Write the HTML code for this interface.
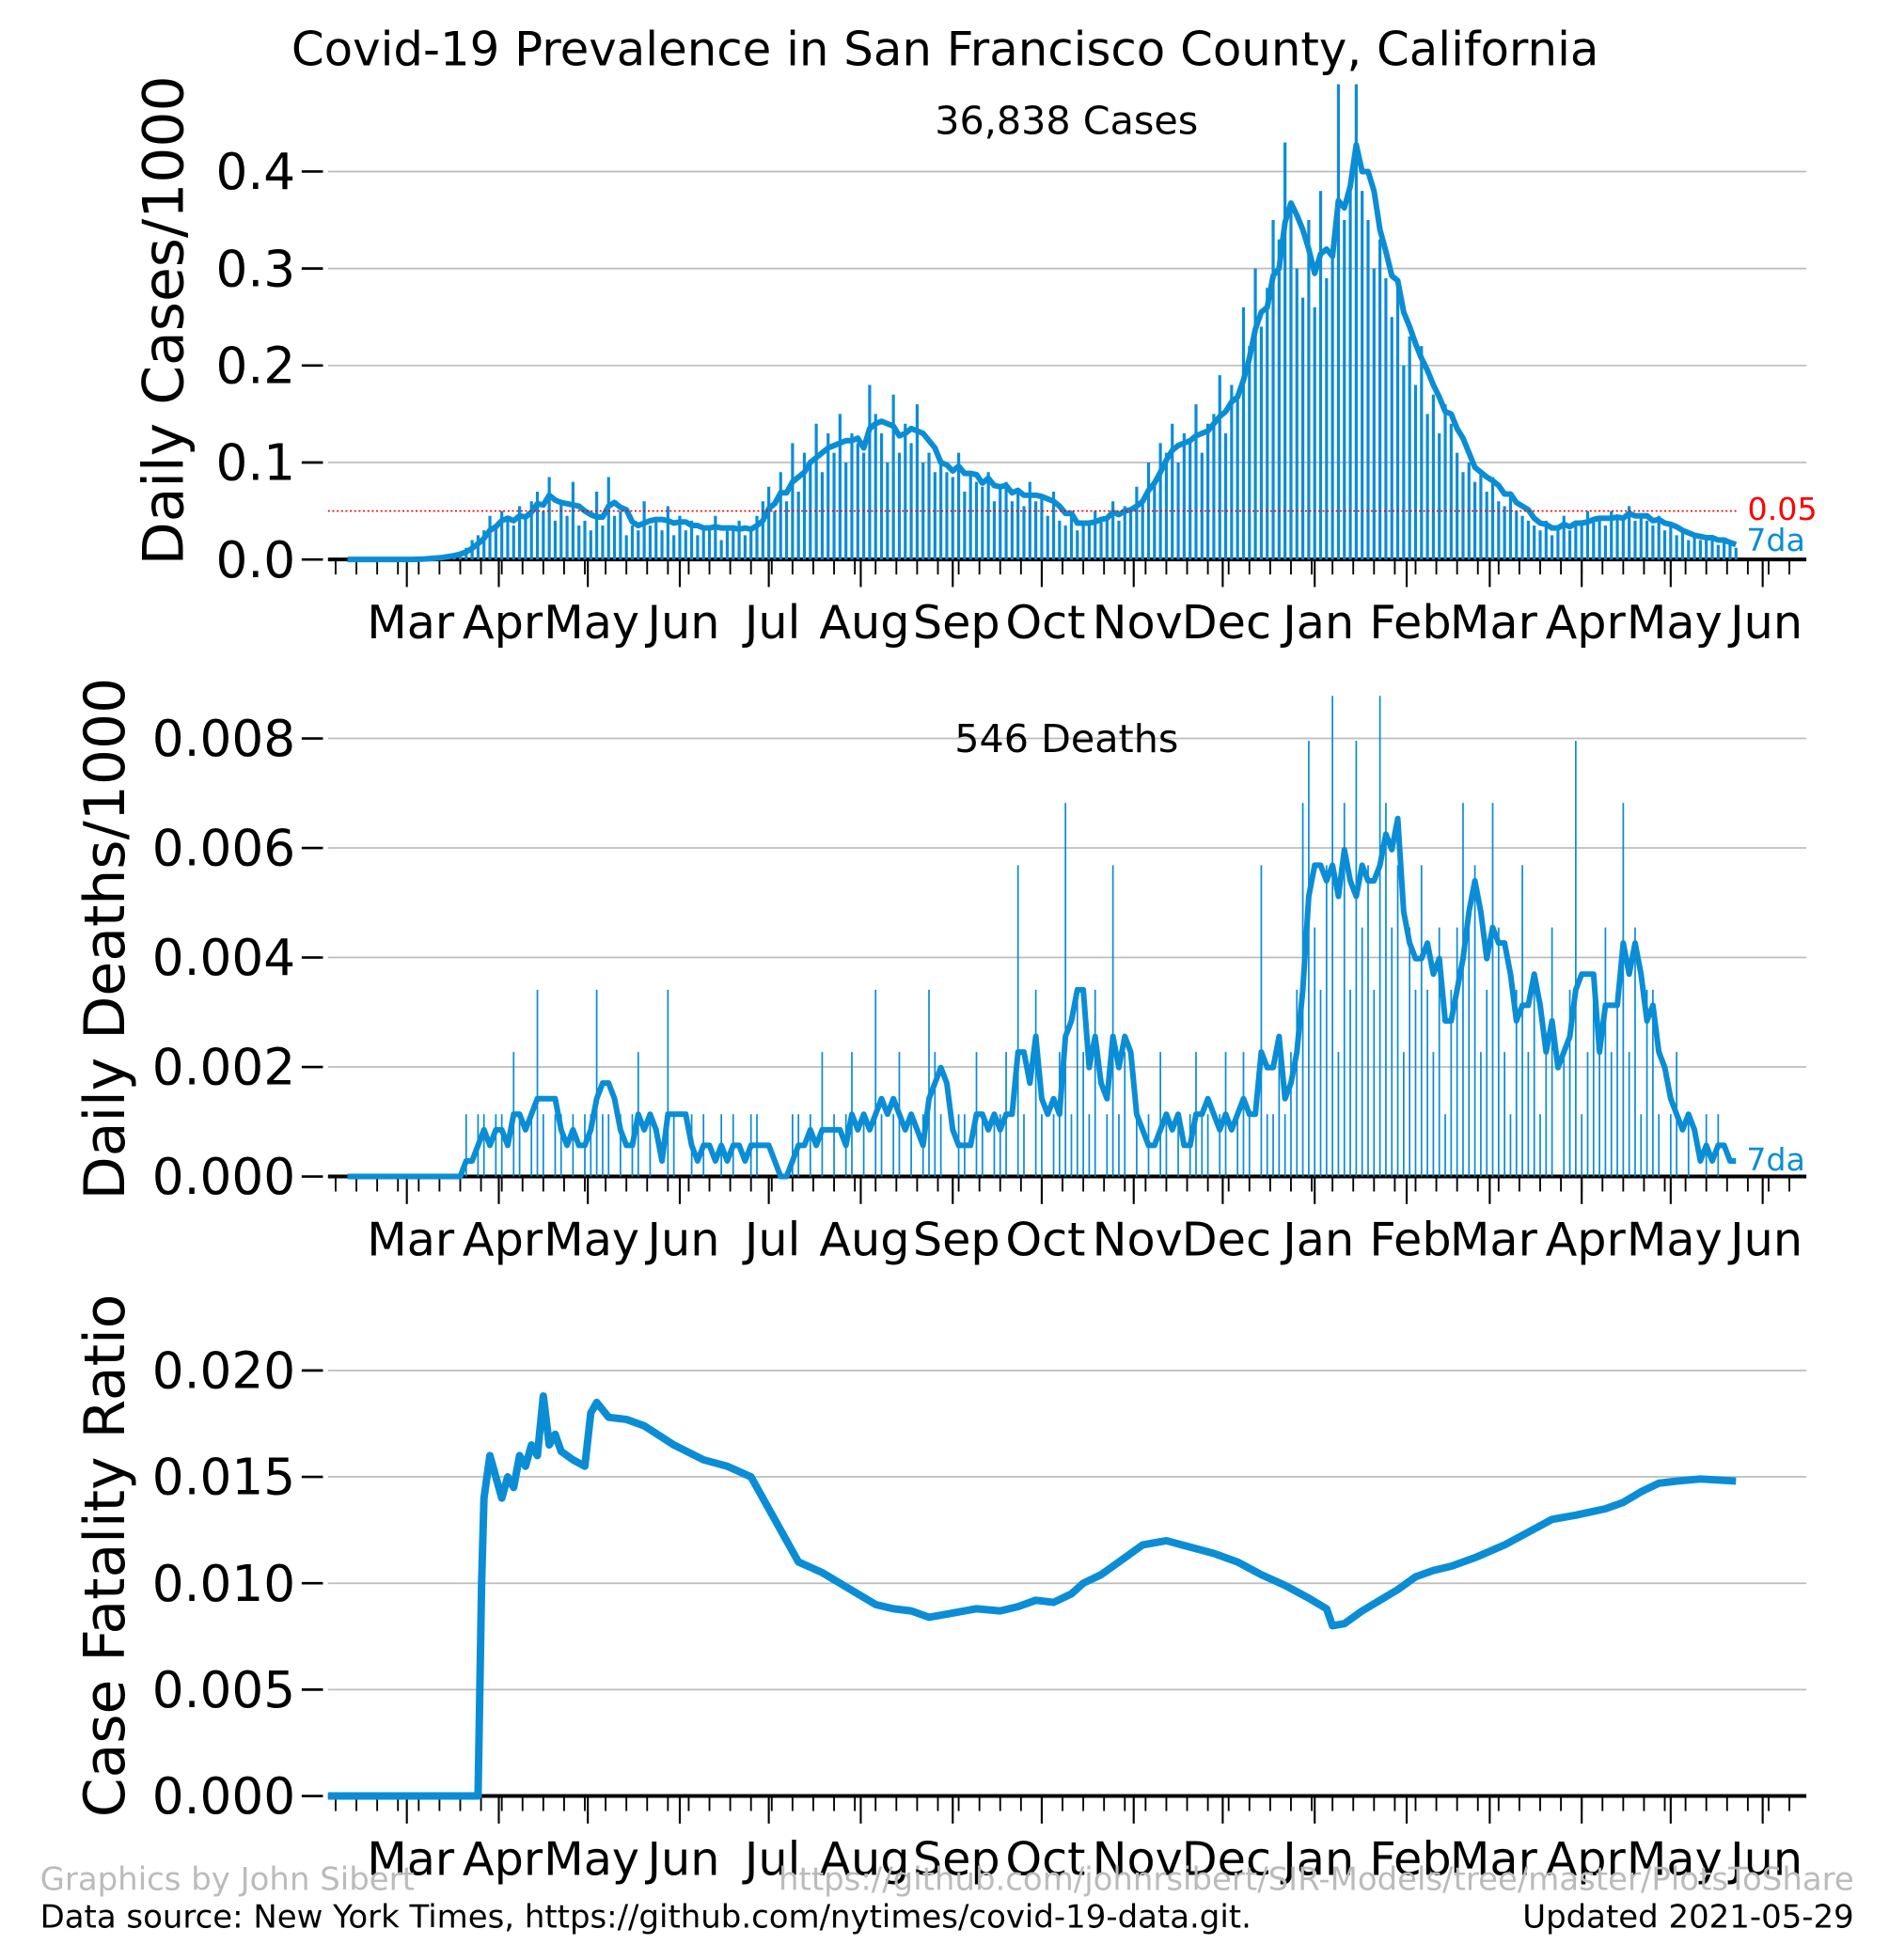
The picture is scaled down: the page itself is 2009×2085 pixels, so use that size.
<!DOCTYPE html>
<html><head><meta charset="utf-8"><style>
html,body{margin:0;padding:0;background:#fff}
svg{display:block}
text{font-family:"DejaVu Sans","Liberation Sans",sans-serif}
</style></head><body>
<svg id="chart" width="2009" height="2085" viewBox="0 0 1509 1566" xmlns="http://www.w3.org/2000/svg">
<text x="755" y="52" font-size="37.4" text-anchor="middle">Covid-19 Prevalence in San Francisco County, California</text>
<g id="p1"></g>
<g id="p2"></g>
<g id="p3"></g>
<text x="32" y="1510" font-size="25.5" fill="#bbb">Graphics by John Sibert</text>
<text x="1481" y="1510" font-size="25.5" fill="#bbb" text-anchor="end">https://github.com/johnrsibert/SIR-Models/tree/master/PlotsToShare</text>
<text x="32" y="1540" font-size="25.5">Data source: New York Times, https://github.com/nytimes/covid-19-data.git.</text>
<text x="1481" y="1540" font-size="25.5" text-anchor="end">Updated 2021-05-29</text>
</svg>
<script>
// Values sampled every 2 days starting 2020-02-10
const cases = [0,0,0,0,0,0,0,0,0,0,
0,0,1,1,2,2,3,5,6,8,
12,20,25,30,45,35,50,40,35,55,
45,60,70,50,85,40,60,45,80,35,
40,30,70,35,85,45,50,25,35,30,
60,35,40,30,55,25,45,30,40,25,
35,30,45,20,35,30,40,25,30,45,
60,75,50,90,60,120,70,110,100,140,
90,130,110,150,100,130,120,110,180,150,
130,100,170,110,140,120,160,100,110,90,
100,90,85,110,70,90,80,75,90,60,
75,80,60,70,55,80,60,65,45,70,
40,35,45,30,40,35,50,40,45,60,
40,55,50,75,60,100,80,120,110,140,
100,130,120,160,110,140,150,190,130,180,
170,260,220,300,240,280,350,330,430,360,
300,270,350,260,380,290,320,490,350,380,
490,380,350,300,330,290,250,280,200,230,
180,220,150,170,130,160,140,110,90,100,
80,90,70,85,60,55,70,50,45,40,
35,30,40,25,35,45,30,40,35,50,
40,45,35,50,45,40,55,40,45,40,
35,45,30,35,25,30,20,25,20,25,
20,15,20,15,12];
const deaths = [0,0,0,0,0,0,0,0,0,0,0,0,0,0,0,0,0,0,0,0,
1,0,1,1,0,1,1,0,2,1,
0,1,3,1,0,1,1,0,1,0,
1,1,3,1,1,0,1,0,1,2,
0,1,0,0,3,1,0,0,1,0,
1,0,0,1,0,1,0,0,1,1,
0,0,0,0,0,1,1,0,1,0,
2,0,1,0,1,2,0,1,0,3,
1,0,1,2,0,1,0,1,3,2,
1,0,0,1,1,0,2,1,0,1,
1,2,0,5,1,0,3,1,0,1,
2,6,1,3,2,1,3,0,1,5,
1,2,0,1,0,1,0,2,1,0,
1,0,1,2,1,1,0,1,2,0,
1,2,1,0,5,1,1,2,1,2,
3,6,7,4,3,5,8,2,6,3,
7,4,5,3,8,6,4,5,2,4,
3,5,3,2,4,1,3,4,6,4,
5,2,3,6,4,2,1,3,5,2,
3,1,2,4,0,2,3,7,1,2,
3,2,4,2,3,6,2,4,1,3,
3,1,0,1,2,0,1,0,0,1,
0,1,0,0,0];
const cfrK = [-3.3,22,22.6,23,24,25,26,27,28,29,30,31,32,33,34,35,36,38,40,41,42,44,47,50,55,60,64,68,70,72,74,76,80,83,86,89,92,95,98,102,106,110,113,116,119,122,124,127,130,134,138,142,146,150,154,158,162,165,166,168,171,174,177,180,183,186,190,195,199,203,207,212,215,218,221,224,228,234];
const cfrV = [0,0,100,140,160,150,140,150,145,160,155,165,160,188,165,170,162,158,155,180,185,178,177,174,165,158,155,150,140,130,120,110,105,100,95,90,88,87,84,86,88,87,89,92,91,95,100,104,110,118,120,117,114,110,104,99,93,88,80,81,87,92,97,103,106,108,112,118,124,130,132,135,138,143,147,148,149,148];
const monthLabels = ["Mar","Apr","May","Jun","Jul","Aug","Sep","Oct","Nov","Dec","Jan","Feb","Mar","Apr","May","Jun"];
const casesTicks = [0.0,0.1,0.2,0.3,0.4];
const deathTicks = [0.000,0.002,0.004,0.006,0.008];
const cfrTicks = [0.000,0.005,0.010,0.015,0.020];

const NS="http://www.w3.org/2000/svg";
const X0=262, X1=1443, XMAR=325, PXDAY=2.37;
function xk(k){ return XMAR + PXDAY*(-20 + 2*k); }
function mk(g,tag,attrs){ const e=document.createElementNS(NS,tag); for(const a in attrs) e.setAttribute(a,attrs[a]); g.appendChild(e); return e; }
function txt(g,x,y,s,size,anchor,fill){ const t=mk(g,'text',{x:x,y:y,'font-size':size,'text-anchor':anchor||'start',fill:fill||'#000'}); t.textContent=s; return t; }
const BLUE="#0b8dd6";
function daysFromMar1(y,m){ return Math.round((Date.UTC(y,m,1)-Date.UTC(2020,2,1))/86400000); }

function axes(g,y0,yScale,ticks,fmt,ytitle,ytx,ytY){
  ticks.forEach(v=>{
    const y=y0-v*yScale;
    if(v>0){ const gl=mk(g,'line',{x1:X0,x2:X1,y1:y,y2:y,stroke:'#bdbdbd','stroke-width':1.3});
        }
    const tk=mk(g,'line',{x1:241,x2:258,y1:y,y2:y,stroke:'#000','stroke-width':2});
     
    const tl=txt(g,236,y+14,fmt(v),40,'end');
     
  });
  const yt=txt(g,0,0,ytitle,45,'middle');
  yt.setAttribute('transform','translate('+ytx+','+ytY+') rotate(-90)');
   
  const base=mk(g,'line',{x1:X0,x2:X1,y1:y0,y2:y0,stroke:'#000','stroke-width':3});
   
  for(let d=-60; d<=480; d+=7){
    const x=XMAR+PXDAY*(d+1);
    if(x<X0+5||x>X1) continue;
    const t=mk(g,'line',{x1:x,x2:x,y1:y0,y2:y0+12,stroke:'#000','stroke-width':1.4});
     
  }
  monthLabels.forEach((m,i)=>{
    const yy=2020+Math.floor((2+i)/12), mm=(2+i)%12;
    const x=XMAR+PXDAY*daysFromMar1(yy,mm);
    const t=mk(g,'line',{x1:x,x2:x,y1:y0,y2:y0+22,stroke:'#000','stroke-width':1.6});
     
    const l=txt(g,x+3,y0+63,m,37,'middle');
     
  });
}
function ma(arr){ return arr.map((v,i)=>{ let s=0,n=0; for(let j=Math.max(0,i-3);j<=i;j++){s+=arr[j];n++;} return s/n; }); }

// Panel 1 cases
(function(){
  const g=document.getElementById('p1'), y0=447, sc=775, top=63;
  axes(g,y0,sc,casesTicks,v=>v.toFixed(1),'Daily Cases/1000',146,256);
  const bars=mk(g,'g',{});
   
  cases.forEach((v,k)=>{
    if(v<=0) return;
    const y=Math.max(top, y0-v/1000*sc);
    const b=mk(bars,'line',{x1:xk(k),x2:xk(k),y1:y0,y2:y,stroke:BLUE,'stroke-width':2.4});
     
  });
  const m=ma(cases);
  const pl=mk(g,'polyline',{points:m.map((v,k)=>xk(k)+','+(y0-v/1000*sc)).join(' '),fill:'none',stroke:BLUE,'stroke-width':4.5,'stroke-linejoin':'round'});
   
  const yr=y0-0.05*sc;
  const rl=mk(g,'line',{x1:X0,x2:1388,y1:yr,y2:yr,stroke:'#e00','stroke-width':1.2,'stroke-dasharray':'1.5,2'});
   
  const rt=txt(g,1396,yr+7,'0.05',25,'start','#f00');
   
  const l7=txt(g,1395,440,'7da',25,'start',BLUE);
   
  const tot=txt(g,852,107,'36,838 Cases',31,'middle');
   
})();
// Panel 2 deaths
(function(){
  const g=document.getElementById('p2'), y0=940, sc=43750, top=556, per=0.001137;
  axes(g,y0,sc,deathTicks,v=>v.toFixed(3),'Daily Deaths/1000',99,750);
  const bars=mk(g,'g',{});
   
  deaths.forEach((v,k)=>{
    if(v<=0) return;
    const y=Math.max(top, y0-v*per*sc);
    const b=mk(bars,'line',{x1:xk(k),x2:xk(k),y1:y0,y2:y,stroke:BLUE,'stroke-width':1.3});
     
  });
  const m=ma(deaths);
  const pl=mk(g,'polyline',{points:m.map((v,k)=>xk(k)+','+(y0-v*per*sc)).join(' '),fill:'none',stroke:BLUE,'stroke-width':4.5,'stroke-linejoin':'round'});
   
  const l7=txt(g,1395,935,'7da',25,'start',BLUE);
   
  const tot=txt(g,852,601,'546 Deaths',31,'middle');
   
})();
// Panel 3 CFR
(function(){
  const g=document.getElementById('p3'), y0=1435, sc=17000;
  axes(g,y0,sc,cfrTicks,v=>v.toFixed(3),'Case Fatality Ratio',99,1243);
  const pl=mk(g,'polyline',{points:cfrK.map((k,i)=>xk(k)+','+(y0-cfrV[i]/10000*sc)).join(' '),fill:'none',stroke:BLUE,'stroke-width':6,'stroke-linejoin':'round'});
   
})();
</script>
</body></html>
